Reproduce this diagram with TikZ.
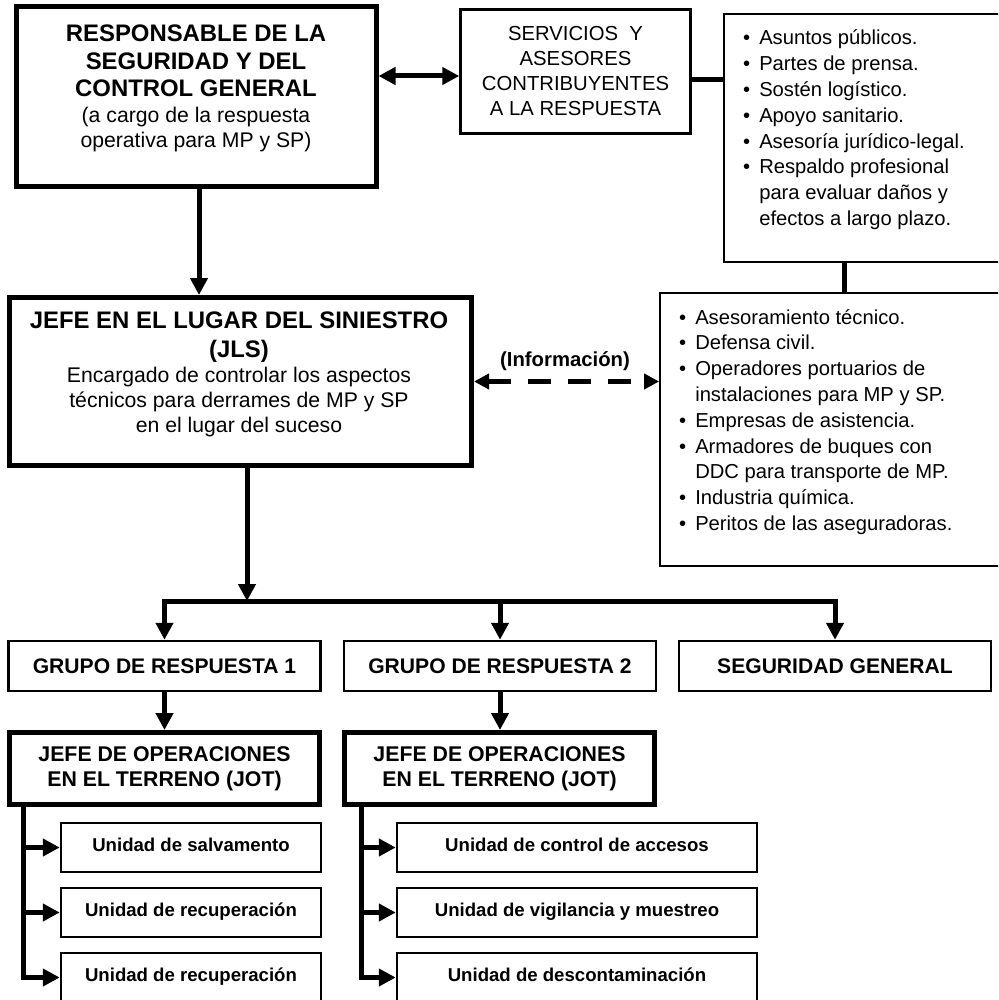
\documentclass[tikz,border=0pt]{standalone}
\usepackage{fontspec}
\setmainfont{Liberation Sans}
\usepackage{tikz}
\usetikzlibrary{arrows.meta,positioning}
\tikzset{
    headbox/.style={draw,line width=5pt,inner sep=0pt},
    sidebox/.style={draw,line width=2.5pt,inner sep=0pt,align=center,
      font=\fontsize{20.3}{25}\selectfont},
    listbox/.style={draw,line width=1.8pt,inner sep=0pt},
    groupbox/.style={draw,line width=2.5pt,inner sep=0pt,minimum width=312pt,
      minimum height=50pt,font=\fontsize{21.1}{25}\selectfont\bfseries},
    jotbox/.style={draw,line width=5pt,inner sep=0pt,minimum width=310pt,
      minimum height=72pt,align=center,font=\fontsize{21.3}{25}\selectfont\bfseries},
    unitbox/.style={draw,line width=2.5pt,inner sep=0pt,minimum height=49pt,
      text height=14pt,text depth=7pt,font=\fontsize{18.6}{22}\selectfont\bfseries},
    bodytext/.style={inner sep=0pt,align=center,font=\fontsize{21.2}{25}\selectfont},
    listtext/.style={inner sep=0pt,anchor=base west,font=\fontsize{20.2}{25.8}\selectfont},
    flowlink/.style={line width=5pt},
    flowarrow/.style={flowlink,-{Triangle[length=17pt,width=17pt]}},
    linkboth/.style={flowlink,{Triangle[length=17pt,width=17pt]}-{Triangle[length=17pt,width=17pt]}},
    infoarrow/.style={line width=5pt,dash pattern=on 23pt off 17pt,
      {Triangle[length=15pt,width=15pt]}-{Triangle[length=15pt,width=15pt]}}
}
\newcommand{\hdtitle}[1]{{\fontsize{23.9}{28}\selectfont\bfseries #1}}

\begin{document}
\begin{tikzpicture}[x=1pt,y=-1pt]
  \useasboundingbox (0,0) rectangle (998,1000);
  \clip (0,0) rectangle (998,1000);
  % top row
  \node[headbox,minimum width=360pt,minimum height=180pt] (resp) at (196,97) {};
  \node[bodytext] (resptext) at (196,88) {\hdtitle{RESPONSABLE DE LA}\\[3pt]
    \hdtitle{SEGURIDAD Y DEL}\\[2pt]\hdtitle{CONTROL GENERAL}\\[1pt]
    (a cargo de la respuesta\\operativa para MP y SP)};
  \node[sidebox,minimum width=230pt,minimum height=124pt] (serv) at (575.5,71.5)
    {SERVICIOS\ \ Y\\ASESORES\\CONTRIBUYENTES\\A LA RESPUESTA};
  \node[listbox,minimum width=286pt,minimum height=248pt] (list1) at (867,138) {};
  \node[listtext] (list1text) at (743,45) {\begin{tabular}[t]{@{}l@{\hspace{9pt}}l@{}}
    \textbullet & Asuntos públicos.\\
    \textbullet & Partes de prensa.\\
    \textbullet & Sostén logístico.\\
    \textbullet & Apoyo sanitario.\\
    \textbullet & Asesoría jurídico-legal.\\
    \textbullet & Respaldo profesional\\
                & para evaluar daños y\\
                & efectos a largo plazo.
    \end{tabular}};
  % middle row
  \node[headbox,minimum width=462pt,minimum height=168pt] (jls) at (240.5,381.5) {};
  \node[bodytext] (jlstext) at (239,374) {\hdtitle{JEFE EN EL LUGAR DEL SINIESTRO}\\[4pt]
    \hdtitle{(JLS)}\\Encargado de controlar los aspectos\\
    técnicos para derrames de MP y SP\\en el lugar del suceso};
  \node[listbox,minimum width=350pt,minimum height=273pt] (list2) at (835,429.5) {};
  \node[listtext] (list2text) at (679,324) {\begin{tabular}[t]{@{}l@{\hspace{9pt}}l@{}}
    \textbullet & Asesoramiento técnico.\\
    \textbullet & Defensa civil.\\
    \textbullet & Operadores portuarios de\\
                & instalaciones para MP y SP.\\
    \textbullet & Empresas de asistencia.\\
    \textbullet & Armadores de buques con\\
                & DDC para transporte de MP.\\
    \textbullet & Industria química.\\
    \textbullet & Peritos de las aseguradoras.
    \end{tabular}};
  \node[inner sep=0pt,font=\fontsize{20.3}{24}\selectfont\bfseries] (info) at (565,361)
    {(Información)};
  % groups
  \node[groupbox] (gr1) at (164.5,666) {GRUPO DE RESPUESTA 1};
  \node[groupbox] (gr2) at (500,666) {GRUPO DE RESPUESTA 2};
  \node[groupbox] (segur) at (835,666) {SEGURIDAD GENERAL};
  \node[jotbox] (jot1) at (164.5,768.5) {JEFE DE OPERACIONES\\EN EL TERRENO (JOT)};
  \node[jotbox] (jot2) at (499.5,768.5) {JEFE DE OPERACIONES\\EN EL TERRENO (JOT)};
  % units
  \node[unitbox,minimum width=260pt] (u11) at (191,847.5) {Unidad de salvamento};
  \node[unitbox,minimum width=260pt,below=13.5pt of u11] (u12) {Unidad de recuperación};
  \node[unitbox,minimum width=260pt,below=13.5pt of u12] (u13) {Unidad de recuperación};
  \node[unitbox,minimum width=360pt] (u21) at (577,847.5) {Unidad de control de accesos};
  \node[unitbox,minimum width=360pt,below=13.5pt of u21] (u22) {Unidad de vigilancia y muestreo};
  \node[unitbox,minimum width=360pt,below=13.5pt of u22] (u23) {Unidad de descontaminación};
  \coordinate (bus) at (247,601);
  \coordinate (rail1) at (23,0);
  \coordinate (rail2) at (361,0);

  \draw[linkboth] ([yshift=-4.5pt]serv.west) -- ([yshift=-4.5pt]serv.west -| resp.east);
  \draw[flowlink] ([yshift=-8.5pt]serv.east) -- ([yshift=-8.5pt]serv.east -| list1.west);
  \draw[flowlink] ([xshift=-23pt]list1.south) -- ([xshift=-23pt]list1.south |- list2.north);
  \draw[flowarrow] ([xshift=3pt]resp.south) -- ([xshift=3pt]resp.south |- jls.north);
  \draw[infoarrow] (jls.east) -- (jls.east -| list2.west);
  \draw[flowarrow] (jls.south -| bus) -- (bus);
  \draw[linkboth] (gr1.north) |- (segur.north |- bus) -- (segur.north);
  \draw[flowarrow] (gr2.north |- bus) -- (gr2.north);
  \draw[flowarrow] (gr1) -- (jot1);
  \draw[flowarrow] (gr2.south) -- (gr2.south |- jot2.north);
  \draw[flowarrow] (rail1 |- jot1.south) |- (u13.west);
  \draw[flowarrow] (rail2 |- jot2.south) |- (u23.west);
  \foreach \u in {u11,u12} \draw[flowarrow] (rail1 |- \u.west) -- (\u.west);
  \foreach \u in {u21,u22} \draw[flowarrow] (rail2 |- \u.west) -- (\u.west);
\end{tikzpicture}
\end{document}
